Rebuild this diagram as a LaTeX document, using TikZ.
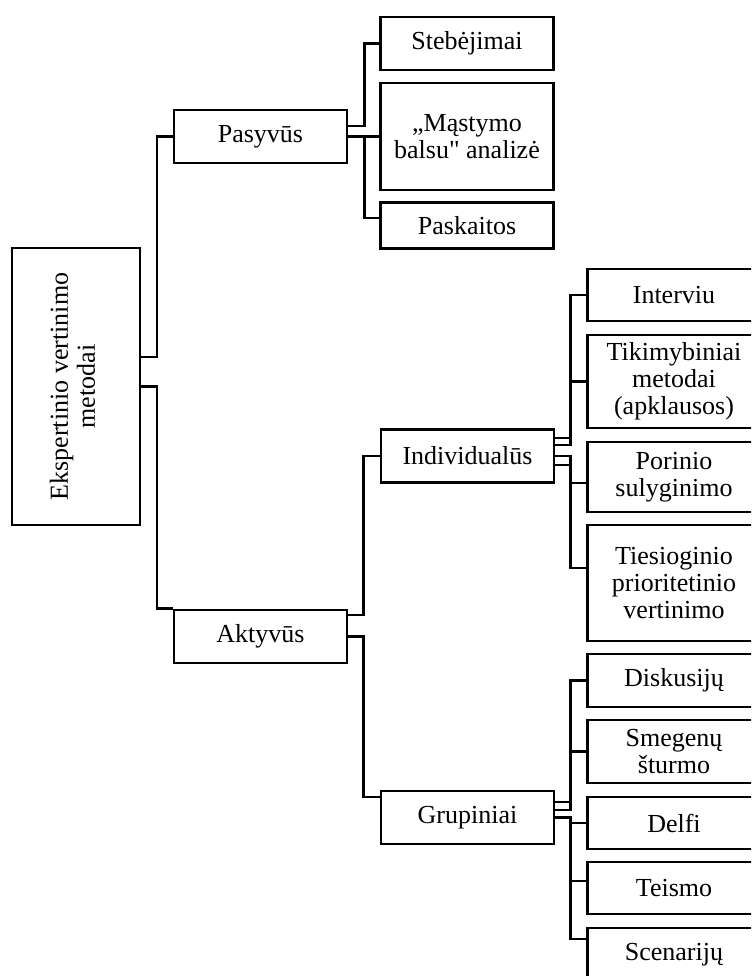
\documentclass[tikz,border=0pt]{standalone}
\usepackage{fontspec}
\setmainfont{Liberation Serif}[Ligatures=TeXOff]
\usepackage{graphicx}
\usepackage{tikz}

\begin{document}
\begin{tikzpicture}[x=0.5pt,y=-0.5pt,
  box/.style={draw, line width=1.3pt, inner sep=0pt, align=center,
    minimum width=86.5pt, minimum height=26.5pt,
    font=\fontsize{13}{13.5}\selectfont},
  conn/.style={line width=1.3pt}]

\useasboundingbox (0,0) rectangle (751,976);
\clip (0,0) rectangle (751,976);

% root
\node[box, minimum width=64pt, minimum height=138.5pt] (root) at (76,386.5)
  {\rotatebox{90}{\begin{tabular}{@{}c@{}}Ekspertinio vertinimo\\metodai\end{tabular}}};

% second level
\node[box] (pas) at (260.5,136.5) {Pasyvūs};
\node[box] (akt) at (260.5,636.5) {Aktyvūs};

\node[box] (steb) at (467,43.5) {Stebėjimai};
\node[box, minimum height=53.5pt] (mast) at (467,136.5) {„Mąstymo\\balsu" analizė};
\node[box, minimum height=23pt] (pask) at (467,225.5) {Paskaitos};

\node[box] (ind) at (467.5,456) {Individualūs};
\node[box] (grp) at (467.5,817.5) {Grupiniai};

% leaves
\node[box, minimum height=26pt] (int) at (674,295) {Interviu};
\node[box, minimum height=46.5pt] (tik) at (674,381.5) {Tikimybiniai\\metodai\\(apklausos)};
\node[box, minimum height=35pt] (por) at (674,477) {Porinio\\sulyginimo};
\node[box, minimum height=58pt] (tie) at (674,583) {Tiesioginio\\prioritetinio\\vertinimo};

\node[box] (dis) at (674,680.5) {Diskusijų};
\node[box, minimum height=31.5pt] (sme) at (674,751.5) {Smegenų\\šturmo};
\node[box, minimum height=26pt] (del) at (674,823) {Delfi};
\node[box, minimum height=26pt] (tei) at (674,888) {Teismo};
\node[box] (sce) at (674,954.5) {Scenarijų};

% connectors
\draw[conn] ([yshift=14.75pt]root.east) -- ++(15.5,0) |- (pas.west);
\draw[conn] (root.east) -- ++(15.5,0) |- ([yshift=14pt]akt.west);

\draw[conn] ([yshift=5.25pt]pas.east) -- ++(16,0) |- (steb.west);
\draw[conn] (pas.east) -- (mast.west);
\draw[conn] (pas.east) -- ++(16,0) |- ([yshift=3.75pt]pask.west);

\draw[conn] ([yshift=10.75pt]akt.east) -- ++(15,0) |- (ind.west);
\draw[conn] (akt.east) -- ++(15,0) |- ([yshift=10.25pt]grp.west);

\draw[conn] ([yshift=9pt]ind.east) -- ++(15,0) |- (int.west);
\draw[conn] ([yshift=5.5pt]ind.east) -- ++(15,0) |- (tik.west);
\draw[conn] (ind.east) -- ++(15,0) |- ([yshift=-3pt]por.west);
\draw[conn] ([yshift=-4.5pt]ind.east) -- ++(15,0) |- ([yshift=7.5pt]tie.west);

\draw[conn] ([yshift=7.75pt]grp.east) -- ++(15,0) |- (dis.west);
\draw[conn] ([yshift=3.75pt]grp.east) -- ++(15,0) |- (sme.west);
\draw[conn] (grp.east) -- ++(15,0) |- (del.west);
\draw[conn] (grp.east) -- ++(15,0) |- ([yshift=3.5pt]tei.west);
\draw[conn] (grp.east) -- ++(15,0) |- ([yshift=7.75pt]sce.west);

\end{tikzpicture}
\end{document}
